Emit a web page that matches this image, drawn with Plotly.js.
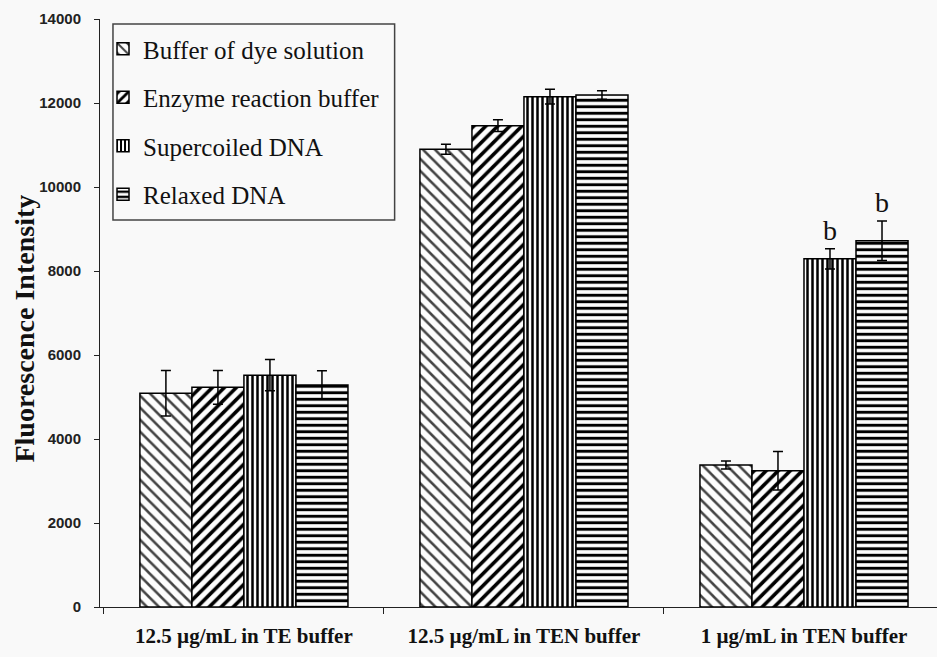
<!DOCTYPE html>
<html>
<head>
<meta charset="utf-8">
<script src="https://cdn.plot.ly/plotly-3.0.1.min.js"></script>
<style>html,body{margin:0;padding:0;background:#f9f9f9;}#chart{width:937px;height:657px;}</style>
</head>
<body>
<div id="chart"></div>
<script>
const categories = ["12.5 µg/mL in TE buffer", "12.5 µg/mL in TEN buffer", "1 µg/mL in TEN buffer"];
const seriesNames = ["Buffer of dye solution", "Enzyme reaction buffer", "Supercoiled DNA", "Relaxed DNA"];
const dyeBuffer = [5090, 10900, 3380];
const dyeBufferErr = [540, 120, 95];
const enzymeBuffer = [5230, 11460, 3245];
const enzymeBufferErr = [400, 140, 460];
const supercoiled = [5520, 12150, 8290];
const supercoiledErr = [370, 175, 240];
const relaxed = [5285, 12190, 8720];
const relaxedErr = [340, 100, 470];
const sigLabels = [["", "", ""], ["", "", ""], ["", "", "b"], ["", "", "b"]];

const values = [dyeBuffer, enzymeBuffer, supercoiled, relaxed];
const errs = [dyeBufferErr, enzymeBufferErr, supercoiledErr, relaxedErr];
const patterns = [
  {shape: "\\", size: 8.5, solidity: 0.3, fgcolor: "#444", bgcolor: "#fdfdfd"},
  {shape: "/", size: 8.5, solidity: 0.42, fgcolor: "#000", bgcolor: "#fdfdfd"},
  {shape: "|", size: 5, solidity: 0.5, fgcolor: "#000", bgcolor: "#fdfdfd"},
  {shape: "-", size: 6.5, solidity: 0.45, fgcolor: "#000", bgcolor: "#fdfdfd"}
];
const bargap = 0.257;
const serif = "Liberation Serif";

const traces = seriesNames.map((name, i) => ({
  type: "bar",
  name: name,
  legendgroup: "g" + i,
  x: categories,
  y: values[i],
  marker: {color: "#fdfdfd", pattern: patterns[i], line: {color: "#000", width: 1.5}},
  error_y: {type: "data", array: errs[i], visible: true, color: "#000", thickness: 1.5, width: 5}
}));

const annotations = [];
const w = (1 - bargap) / seriesNames.length;
sigLabels.forEach((labs, i) => {
  labs.forEach((t, c) => {
    if (!t) return;
    annotations.push({
      x: c + (i - (seriesNames.length - 1) / 2) * w,
      y: values[i][c] + errs[i][c],
      xref: "x", yref: "y", text: t, showarrow: false,
      yanchor: "bottom", yshift: 1,
      font: {family: serif, size: 28, color: "#111"}
    });
  });
});
annotations.push({
  xref: "paper", yref: "paper", x: -0.09, y: 0.473,
  text: "<b>Fluorescence Intensity</b>", textangle: -90, showarrow: false,
  xanchor: "center", yanchor: "middle",
  font: {family: serif, size: 28, color: "#111"}
});

const layout = {
  width: 937, height: 657,
  margin: {l: 100, r: 0, t: 19, b: 50},
  paper_bgcolor: "#f9f9f9",
  plot_bgcolor: "#f9f9f9",
  barmode: "group",
  bargap: bargap,
  bargroupgap: 0,
  showlegend: true,
  legend: {
    x: 0.0036, y: 0.988, xanchor: "left", yanchor: "top",
    bgcolor: "rgba(0,0,0,0)", borderwidth: 0,
    font: {family: serif, size: 25, color: "#111"},
    traceorder: "grouped", tracegroupgap: 13
  },
  shapes: [{
    type: "rect", xref: "paper", yref: "paper",
    x0: 0.0155, x1: 0.352, y0: 0.658, y1: 0.9915,
    line: {color: "#444", width: 1.5}, fillcolor: "rgba(0,0,0,0)"
  }],
  xaxis: {
    type: "category",
    range: [-0.514, 2.475],
    showline: true, linecolor: "#222", linewidth: 1,
    ticks: "outside", tickson: "boundaries", ticklen: 6, tickcolor: "#222",
    showgrid: false, zeroline: false,
    ticklabelstandoff: 10,
    tickfont: {family: serif, size: 21, color: "#111", weight: "bold"}
  },
  yaxis: {
    range: [0, 14000],
    tickvals: [0, 2000, 4000, 6000, 8000, 10000, 12000, 14000],
    ticktext: ["0", "2000", "4000", "6000", "8000", "10000", "12000", "14000"],
    showline: true, linecolor: "#222", linewidth: 1,
    ticks: "outside", ticklen: 5, tickcolor: "#222",
    showgrid: false, zeroline: false,
    ticklabelstandoff: 10,
    tickfont: {family: "Liberation Sans", size: 15, color: "#222", weight: "bold"}
  },
  annotations: annotations
};

Plotly.newPlot("chart", traces, layout, {displayModeBar: false, responsive: false});
</script>
</body>
</html>
